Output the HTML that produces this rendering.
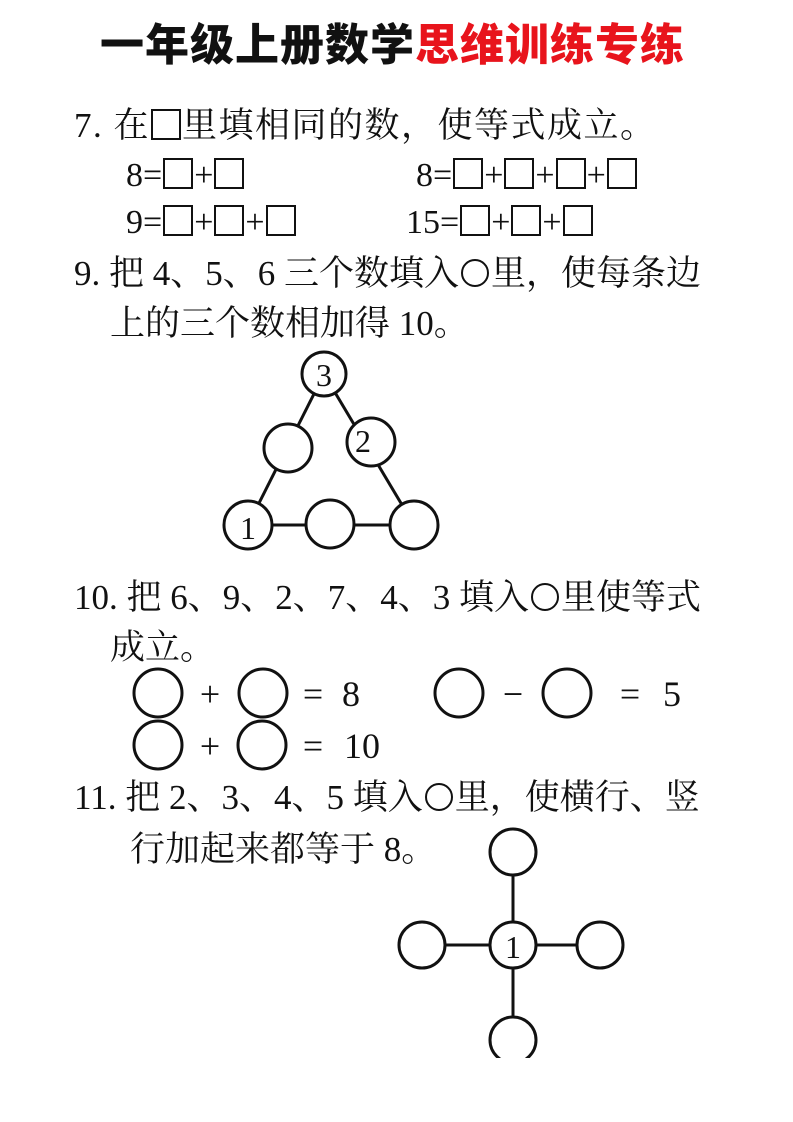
<!DOCTYPE html>
<html><head><meta charset="utf-8"><style>
body{margin:0;width:793px;height:1122px;background:#fff;position:relative;overflow:hidden;font-family:"Liberation Serif","Noto Serif CJK SC",serif;color:#111}
.t{position:absolute;white-space:nowrap;font-size:35px;line-height:1;letter-spacing:1.5px}
.n{letter-spacing:0}
.title{position:absolute;left:100px;top:24px;font-family:"Liberation Sans","Noto Sans CJK SC",sans-serif;font-weight:900;font-size:44px;letter-spacing:1px;white-space:nowrap;line-height:1}
.eq{font-size:34px;letter-spacing:0}
.b{display:inline-block;width:26px;height:27px;border:2px solid #111;vertical-align:-3px;margin:0 1px}
.c{display:inline-block;width:24px;height:24px;border:2px solid #111;border-radius:50%;vertical-align:-2px;margin:0 2px}
svg{position:absolute;left:0;top:0}
</style></head><body>
<div class="title">一年级上册数学<span style="color:#e8141c">思维训练专练</span></div>
<div class="t" style="left:74px;top:108px">7. 在<span class="b"></span>里填相同的数，使等式成立。</div>
<div class="t eq" style="left:126px;top:158px">8=<span class="b"></span>+<span class="b"></span></div>
<div class="t eq" style="left:416px;top:158px">8=<span class="b"></span>+<span class="b"></span>+<span class="b"></span>+<span class="b"></span></div>
<div class="t eq" style="left:126px;top:205px">9=<span class="b"></span>+<span class="b"></span>+<span class="b"></span></div>
<div class="t eq" style="left:406px;top:205px">15=<span class="b"></span>+<span class="b"></span>+<span class="b"></span></div>
<div class="t n" style="left:74px;top:256px">9. 把 4、5、6 三个数填入<span class="c"></span>里，使每条边</div>
<div class="t n" style="left:110px;top:306px">上的三个数相加得 10。</div>
<div class="t n" style="left:74px;top:580px">10. 把 6、9、2、7、4、3 填入<span class="c"></span>里使等式</div>
<div class="t n" style="left:110px;top:630px">成立。</div>
<div class="t n" style="left:74px;top:780px">11. 把 2、3、4、5 填入<span class="c"></span>里，使横行、竖</div>
<div class="t n" style="left:130px;top:832px">行加起来都等于 8。</div>
<svg width="793" height="1122" viewBox="0 0 793 1122">
<g stroke="#111" stroke-width="3" fill="#fff">
<line x1="324" y1="374" x2="248" y2="525"/>
<line x1="324" y1="374" x2="414" y2="525"/>
<line x1="248" y1="525" x2="414" y2="525"/>
<circle cx="324" cy="374" r="22"/>
<circle cx="288" cy="448" r="24"/>
<circle cx="371" cy="442" r="24"/>
<circle cx="248" cy="525" r="24"/>
<circle cx="330" cy="524" r="24"/>
<circle cx="414" cy="525" r="24"/>
<circle cx="158" cy="693" r="24"/>
<circle cx="263" cy="693" r="24"/>
<circle cx="459" cy="693" r="24"/>
<circle cx="567" cy="693" r="24"/>
<circle cx="158" cy="745" r="24"/>
<circle cx="262" cy="745" r="24"/>
<line x1="513" y1="852" x2="513" y2="1040"/>
<line x1="422" y1="945" x2="600" y2="945"/>
<circle cx="513" cy="852" r="23"/>
<circle cx="513" cy="945" r="23"/>
<circle cx="422" cy="945" r="23"/>
<circle cx="600" cy="945" r="23"/>
<circle cx="513" cy="1040" r="23"/>
</g>
<rect x="480" y="1058" width="80" height="40" fill="#fff"/>
<g font-family="Liberation Serif,serif" font-size="32" fill="#111" text-anchor="middle">
<text x="324" y="386">3</text>
<text x="363" y="452">2</text>
<text x="248" y="539">1</text>
<text x="513" y="958">1</text>
<g font-size="36"><text x="210" y="706">+</text><text x="313" y="706">=</text><text x="351" y="706">8</text>
<text x="513" y="706">−</text><text x="630" y="706">=</text><text x="672" y="706">5</text>
<text x="210" y="758">+</text><text x="313" y="758">=</text><text x="362" y="758">10</text></g>
</g>
</svg>
</body></html>
